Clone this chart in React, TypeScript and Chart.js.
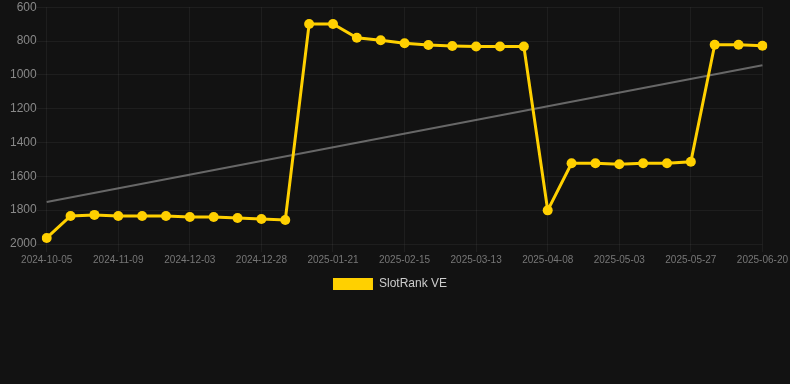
import React, { useEffect, useRef } from "react";
import { Chart, registerables } from "chart.js";

Chart.register(...registerables);

const labels = [
  "2024-10-05", "2024-10-17", "2024-10-29", "2024-11-09", "2024-11-17", "2024-11-25",
  "2024-12-03", "2024-12-11", "2024-12-19", "2024-12-28", "2025-01-05", "2025-01-13",
  "2025-01-21", "2025-01-29", "2025-02-07", "2025-02-15", "2025-02-24", "2025-03-05",
  "2025-03-13", "2025-03-22", "2025-03-31", "2025-04-08", "2025-04-16", "2025-04-25",
  "2025-05-03", "2025-05-11", "2025-05-19", "2025-05-27", "2025-06-04", "2025-06-12",
  "2025-06-20",
];

const rankValues = [
  1964, 1834, 1828, 1834, 1834, 1834, 1840, 1840, 1846, 1852, 1858,
  699, 699, 781, 795, 813, 823, 829, 832, 832, 832,
  1801, 1523, 1523, 1529, 1523, 1523, 1514, 822, 822, 828,
];

const trendStart = 1752;
const trendEnd = 943;

const yTicks = { min: 600, max: 2000, step: 200 };

export default function App() {
  const ref = useRef<HTMLCanvasElement | null>(null);

  useEffect(() => {
    if (!ref.current) return;
    const trend = labels.map((_, i) =>
      i === 0 ? trendStart : i === labels.length - 1 ? trendEnd : null
    );
    const chart = new Chart(ref.current, {
      type: "line",
      data: {
        labels,
        datasets: [
          {
            label: "SlotRank VE",
            data: rankValues,
            borderColor: "#FFD000",
            backgroundColor: "#FFD000",
            borderWidth: 3,
            pointRadius: 5,
            pointHoverRadius: 5,
            pointBackgroundColor: "#FFD000",
            pointBorderColor: "#FFD000",
            pointBorderWidth: 0,
            tension: 0,
          },
          {
            label: "trend",
            data: trend,
            borderColor: "rgba(160,160,160,0.6)",
            backgroundColor: "rgba(160,160,160,0.6)",
            borderWidth: 2,
            pointRadius: 0,
            spanGaps: true,
            tension: 0,
          },
        ],
      },
      options: {
        animation: false,
        responsive: false,
        maintainAspectRatio: false,
        layout: { autoPadding: false, padding: { left: 10, right: 20, top: 0, bottom: 0 } },
        plugins: {
          tooltip: { enabled: false },
          legend: {
            display: true,
            position: "bottom",
            labels: {
              color: "#cccccc",
              boxWidth: 40,
              boxHeight: 12,
              font: { size: 12, family: "Liberation Sans, Arial, sans-serif" },
              filter: (item) => item.text !== "trend",
              generateLabels: (c) =>
                Chart.defaults.plugins.legend.labels
                  .generateLabels(c)
                  .map((it) => ({ ...it, lineWidth: 0 })),
            },
          },
        },
        scales: {
          x: {
            grid: { color: "rgba(255,255,255,0.05)", drawTicks: true, tickLength: 8 },
            border: { display: false },
            ticks: {
              color: "#777777",
              autoSkip: false,
              maxRotation: 0,
              padding: 2,
              font: { size: 10, family: "Liberation Sans, Arial, sans-serif" },
              callback: (_v, i) => (i % 3 === 0 ? labels[i] : null),
            },
          },
          y: {
            reverse: true,
            min: yTicks.min,
            max: yTicks.max,
            grid: { color: "rgba(255,255,255,0.05)", drawTicks: true, tickLength: 10 },
            border: { display: false },
            ticks: {
              stepSize: yTicks.step,
              color: "#888888",
              padding: 0,
              font: { size: 12, family: "Liberation Sans, Arial, sans-serif" },
              callback: (v) => String(v),
            },
          },
        },
      },
    });
    return () => chart.destroy();
  }, []);

  return (
    <div style={{ position: "fixed", left: 0, top: 0, width: 790, height: 384, background: "#121212" }}>
      <canvas ref={ref} width={790} height={300} style={{ display: "block", width: 790, height: 300 }} />
    </div>
  );
}
